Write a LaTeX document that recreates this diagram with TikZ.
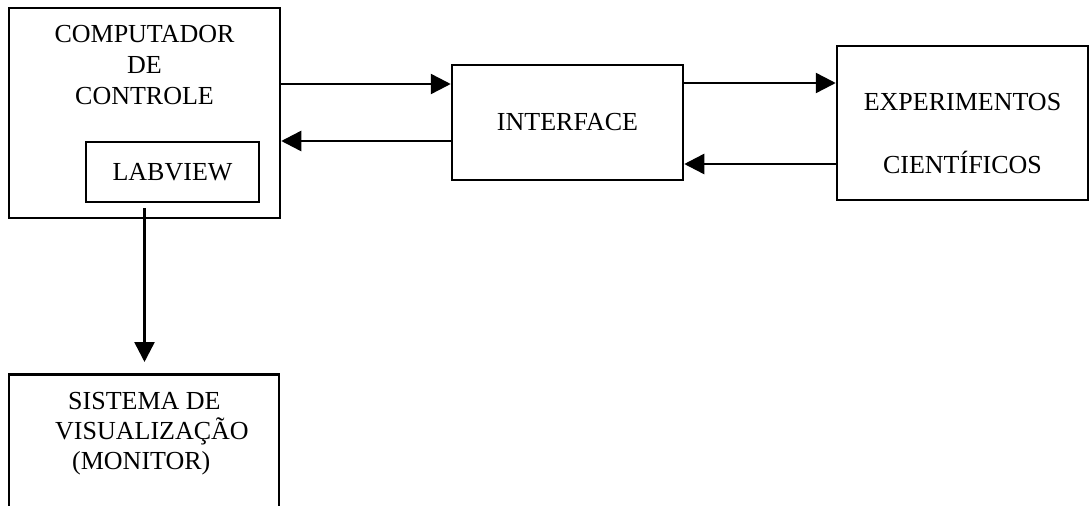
\documentclass[tikz,border=0pt]{standalone}
\usepackage{fontspec}
\setmainfont{Liberation Serif}
\usetikzlibrary{arrows.meta}
\begin{document}
\begin{tikzpicture}[x=1pt,y=-1pt,
  box/.style={draw, line width=2.5pt, inner sep=0pt, rectangle},
  txt/.style={font=\fontsize{26}{31}\selectfont, inner sep=0pt},
  arr/.style={line width=2.5pt, -{Triangle[length=20pt,width=20pt]}}]
\useasboundingbox (0,0) rectangle (1090,506);
\clip (0,0) rectangle (1090,506);
% boxes
\node[box, minimum width=271pt, minimum height=210pt] (box1) at (144.5,113) {};
\node[txt, align=center, anchor=north] (t1) at (144.5,25) {COMPUTADOR\\DE\\CONTROLE};
\node[box, txt, minimum width=173pt, minimum height=60pt] (lab) at (172.5,172) {LABVIEW};
\node[box, txt, minimum width=231pt, minimum height=115pt] (iface) at (567.5,122.5) {INTERFACE};
\node[box, minimum width=251pt, minimum height=154pt] (exp) at (962.5,123) {};
\node[txt, align=center, anchor=north, font=\fontsize{26}{63}\selectfont] (t2) at (962.5,93) {EXPERIMENTOS\\CIENTÍFICOS};
\node[box, minimum width=270pt, minimum height=180pt, anchor=north] (sys) at (144,373) {};
\node[txt, align=left, anchor=north west, font=\fontsize{26}{30}\selectfont] (t3) at (55,392) {\hspace*{13pt}SISTEMA DE\\VISUALIZAÇÃO\\\hspace*{17pt}(MONITOR)};
% connectors
\coordinate (r1) at (0,84);
\coordinate (r2) at (0,141);
\coordinate (r3) at (0,83);
\coordinate (r4) at (0,164);
\coordinate (dstart) at (144.5,208);
\draw[arr] (box1.east |- r1) -- (iface.west |- r1);
\draw[arr] (iface.west |- r2) -- (box1.east |- r2);
\draw[arr] (iface.east |- r3) -- (exp.west |- r3);
\draw[arr] (exp.west |- r4) -- (iface.east |- r4);
\draw[arr, shorten >=11pt] (dstart) -- (sys.north -| dstart);
\end{tikzpicture}
\end{document}
